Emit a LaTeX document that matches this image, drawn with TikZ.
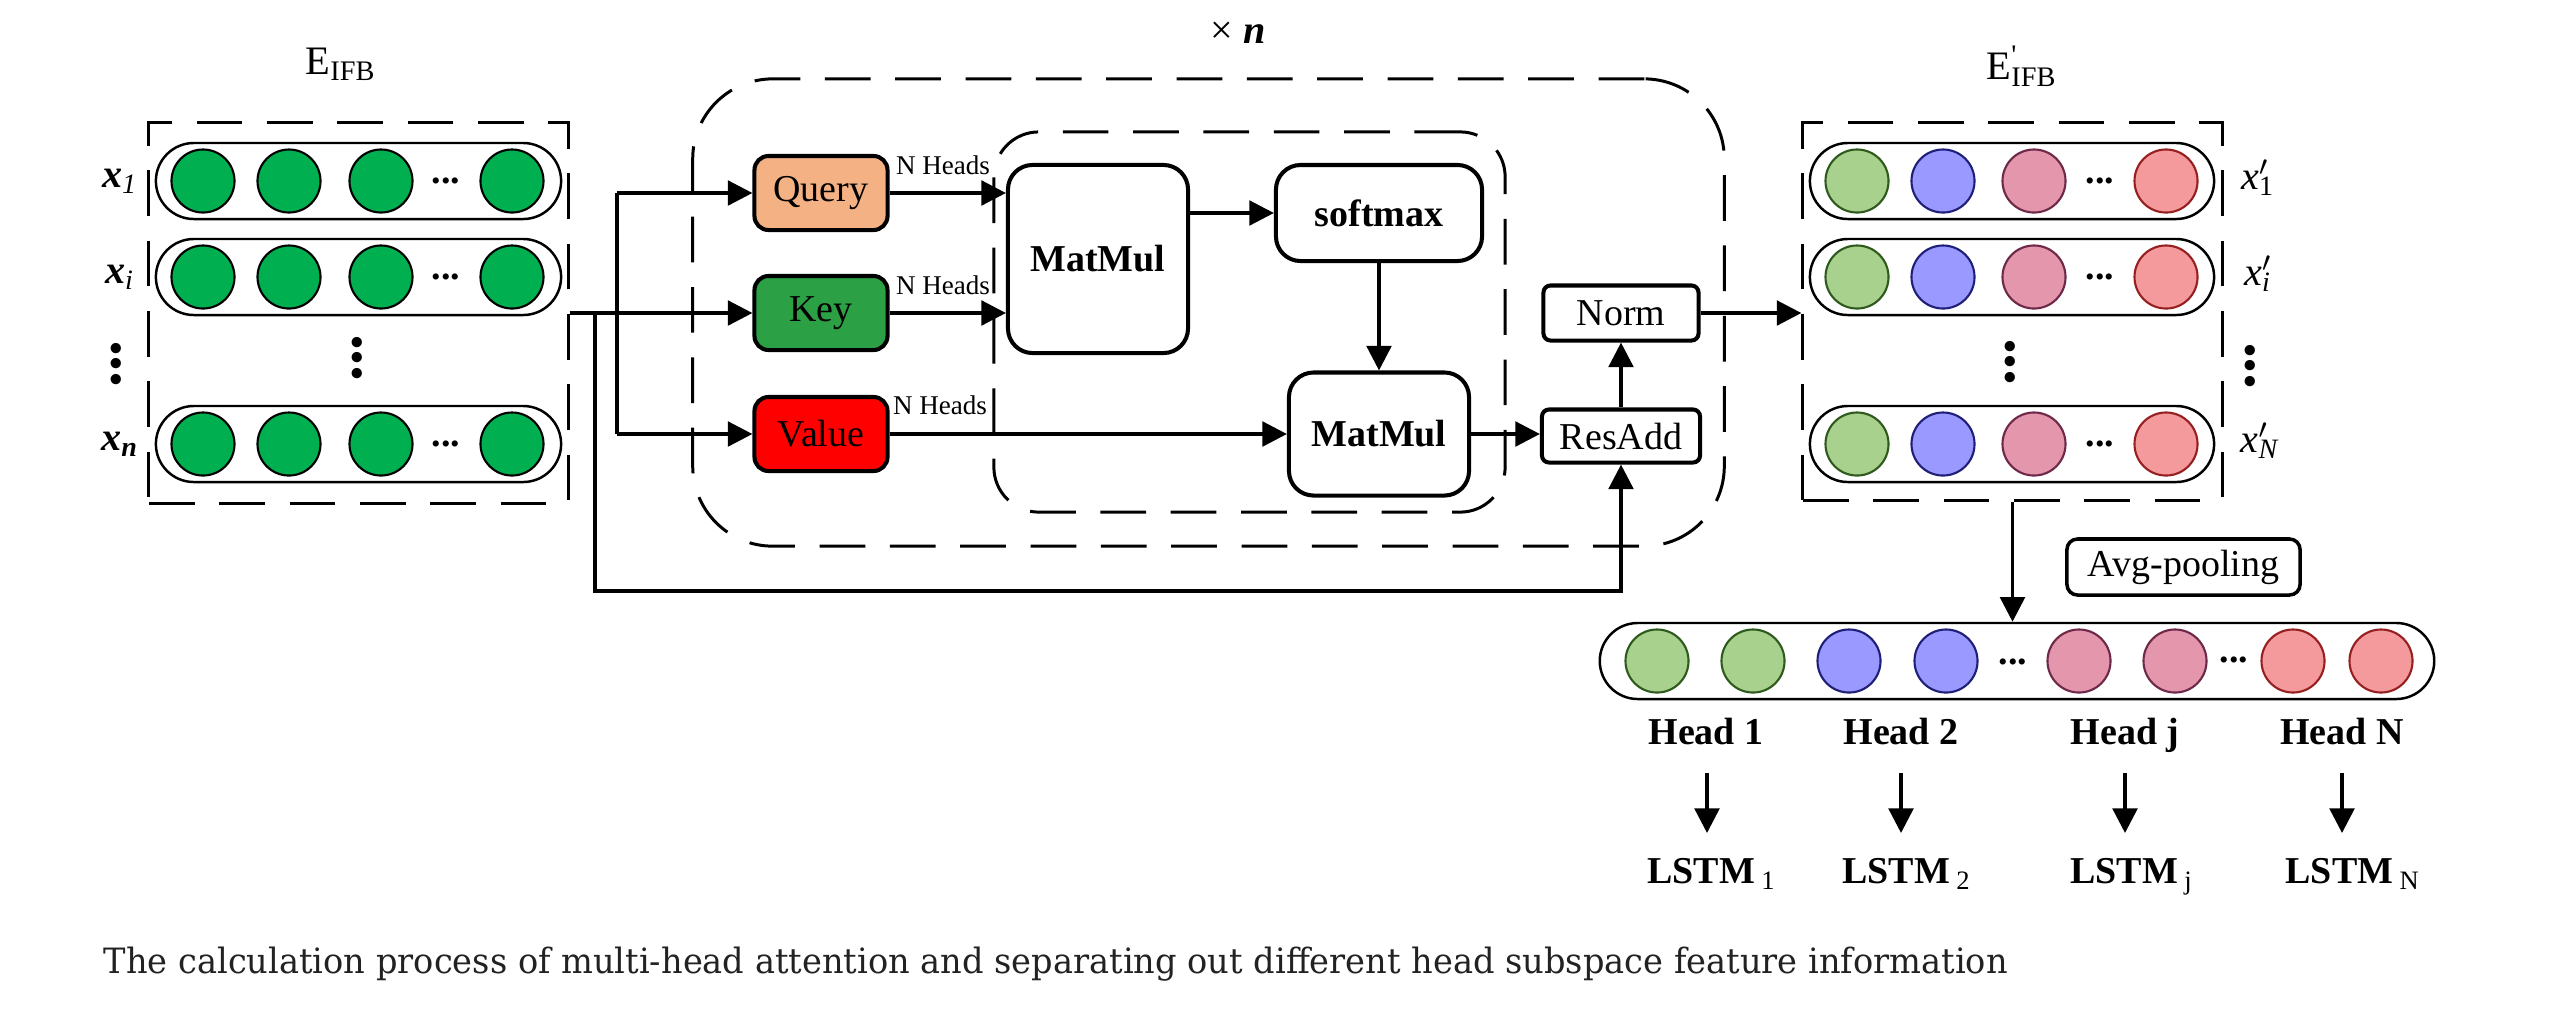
\documentclass[tikz,border=0pt]{standalone}
\usepackage{fontspec}
\setmainfont{Liberation Serif}
\newfontfamily\capfont{DejaVu Serif}
\usetikzlibrary{arrows.meta}
\definecolor{qcol}{HTML}{F4B183}
\definecolor{kcol}{HTML}{2BA045}
\definecolor{vcol}{HTML}{FF0000}
\definecolor{ingreen}{HTML}{00B050}
\definecolor{lgreen}{HTML}{A9D18E}
\definecolor{lgreenB}{HTML}{2E5A1E}
\definecolor{lblue}{HTML}{9999FF}
\definecolor{lblueB}{HTML}{1F1F78}
\definecolor{lpink}{HTML}{E396AC}
\definecolor{lpinkB}{HTML}{6E2848}
\definecolor{lred}{HTML}{F59A9C}
\definecolor{lredB}{HTML}{962020}
\definecolor{capgray}{HTML}{222222}
\begin{document}
\begin{tikzpicture}[x=0.01cm,y=-0.01cm,
  ln/.style={line width=1pt},
  arr/.style={line width=1pt,-{Triangle[length=7pt,width=7pt]}},
  dsh/.style={draw,line width=0.85pt,dash pattern=on 13pt off 7pt,inner sep=0pt},
  blk/.style={draw,line width=1.15pt,inner sep=0pt,font=\fontsize{10.8}{12}\selectfont},
  bblk/.style={blk,font=\bfseries\fontsize{10.8}{12}\selectfont},
  pill/.style={draw,line width=0.7pt,rounded corners=0.38cm,minimum height=0.76cm,inner sep=0pt},
  dotc/.style={circle,draw,line width=0.6pt,minimum size=0.63cm,inner sep=0pt},
  hdl/.style={font=\fontsize{7.7}{9}\selectfont,inner sep=0pt},
  hdots/.style={font=\bfseries\fontsize{10.8}{12}\selectfont,inner sep=0pt},
  vdots/.style={font=\bfseries\fontsize{18}{20}\selectfont,inner sep=0pt,rotate=90},
  lab/.style={font=\fontsize{11.4}{12}\selectfont,inner sep=0pt},
  bt/.style={font=\bfseries\fontsize{10.8}{12}\selectfont,inner sep=0pt,text height=1.6ex,text depth=0.45ex},
]
\useasboundingbox (0,0) rectangle (2554,1014);

% ---------- titles
\node[font=\fontsize{11.5}{12}\selectfont,inner sep=0pt] (ein) at (341,64) {E\textsubscript{IFB}};
\node[font=\fontsize{11.5}{12}\selectfont,inner sep=0pt] (eout) at (2022,66) {E\makebox[0pt][l]{\textsuperscript{\textquotesingle}}\textsubscript{IFB}};
\node[font=\fontsize{11.4}{12}\selectfont,inner sep=0pt] (times) at (1238,33) {× \textbf{\textit{n}}};

% ---------- dashed frames
\node[dsh,minimum width=4.19cm,minimum height=3.80cm] (inbox) at (358.5,313) {};
\node[dsh,minimum width=4.19cm,minimum height=3.77cm] (outbox) at (2012.5,311.5) {};
\node[dsh,rounded corners=0.8cm,minimum width=10.31cm,minimum height=4.67cm] (outer) at (1208.5,312.5) {};
\node[dsh,rounded corners=0.45cm,minimum width=5.11cm,minimum height=3.80cm] (inner) at (1249.5,322) {};

% ---------- input rows
\foreach \r/\y in {a/181,b/277,c/444}{
  \node[pill,minimum width=4.05cm] (inrow\r) at (358.5,\y) {};
  \foreach \k/\x in {1/203,2/289,3/381,4/512}
    \node[dotc,fill=ingreen] (in\r\k) at (\x,\y) {};
  \node[hdots] (indots\r) at (446,\y) {...};
}
\node[lab,font=\bfseries\itshape\fontsize{11.4}{12}\selectfont] (lxa) at (120,181) {x\textsubscript{\mdseries 1}};
\node[lab,font=\bfseries\itshape\fontsize{11.4}{12}\selectfont] (lxb) at (120,277) {x\textsubscript{\mdseries i}};
\node[lab,font=\bfseries\itshape\fontsize{11.4}{12}\selectfont] (lxc) at (120,444) {x\textsubscript{n}};
\node[vdots] (lvd) at (116,364) {...};
\node[vdots] (mvd) at (357,358) {...};

% ---------- output rows
\foreach \r/\y in {a/181,b/277,c/444}{
  \node[pill,minimum width=4.04cm] (outrow\r) at (2012,\y) {};
  \node[dotc,fill=lgreen,draw=lgreenB] (out\r1) at (1857,\y) {};
  \node[dotc,fill=lblue,draw=lblueB] (out\r2) at (1943,\y) {};
  \node[dotc,fill=lpink,draw=lpinkB] (out\r3) at (2034,\y) {};
  \node[dotc,fill=lred,draw=lredB] (out\r4) at (2166,\y) {};
  \node[hdots] (outdots\r) at (2100,\y) {...};
}
\node[lab,font=\itshape\fontsize{11.4}{12}\selectfont] (rxa) at (2258,178) {x\makebox[0pt][l]{\textsuperscript{$\prime$}}\textsubscript{\upshape 1}};
\node[lab,font=\itshape\fontsize{11.4}{12}\selectfont] (rxb) at (2258,274) {x\makebox[0pt][l]{\textsuperscript{$\prime$}}\textsubscript{i}};
\node[lab,font=\itshape\fontsize{11.4}{12}\selectfont] (rxc) at (2260,441) {x\makebox[0pt][l]{\textsuperscript{$\prime$}}\textsubscript{N}};
\node[vdots] (rvd) at (2250,366) {...};
\node[vdots] (ovd) at (2010,362) {...};

% ---------- attention block
\node[blk,fill=qcol,rounded corners=4pt,minimum width=1.33cm,minimum height=0.74cm] (query) at (821,193) {Query};
\node[blk,fill=kcol,rounded corners=4pt,minimum width=1.33cm,minimum height=0.74cm] (key) at (821,313) {Key};
\node[blk,fill=vcol,rounded corners=4pt,minimum width=1.33cm,minimum height=0.74cm] (value) at (821,434) {Value};
\node[hdl] (nhq) at (943,165) {N Heads};
\node[hdl] (nhk) at (943,285) {N Heads};
\node[hdl] (nhv) at (940,405) {N Heads};

\node[bblk,rounded corners=7pt,minimum width=1.80cm,minimum height=1.88cm] (mm1) at (1098,259) {MatMul};
\node[bblk,rounded corners=7pt,minimum width=2.06cm,minimum height=0.96cm] (soft) at (1379,213) {softmax};
\node[bblk,rounded corners=7pt,minimum width=1.80cm,minimum height=1.23cm] (mm2) at (1379,434) {MatMul};
\node[blk,rounded corners=2pt,minimum width=1.55cm,minimum height=0.55cm] (norm) at (1621,313) {Norm};
\node[blk,rounded corners=2pt,minimum width=1.58cm,minimum height=0.53cm] (resadd) at (1621,436) {ResAdd};

% ---------- connectors
\coordinate (j1) at (617,313);
\coordinate (j2) at (595,313);
\coordinate (rb) at (595,591);
\draw[arr] (inbox.east) -- (key.west);
\draw[ln] (j1 |- query.west) -- (j1 |- value.west);
\draw[arr] (j1 |- query.west) -- (query.west);
\draw[arr] (j1 |- value.west) -- (value.west);
\draw[arr] (j2) -- (rb) -| (resadd.south);
\draw[arr] (query.east) -- (query.east -| mm1.west);
\draw[arr] (key.east) -- (key.east -| mm1.west);
\draw[arr] (value.east) -- (value.east -| mm2.west);
\draw[arr] (mm1.east |- soft.west) -- (soft.west);
\draw[arr] (soft.south) -- (mm2.north);
\draw[arr] (mm2.east) -- (mm2.east -| resadd.west);
\draw[arr] (resadd.north) -- (norm.south);
\draw[arr] (norm.east) -- (norm.east -| outbox.west);

% ---------- pooling
\node[pill,minimum width=8.34cm] (pool) at (2017,661) {};
\draw[arr] (outbox.south) -- (outbox.south |- pool.north);
\node[blk,line width=1pt,rounded corners=3pt,minimum width=2.33cm,minimum height=0.56cm] (avg) at (2183.5,567) {Avg-pooling};
\foreach \k/\x/\c in {1/1657/lgreen,2/1753/lgreen,3/1849/lblue,4/1946/lblue,5/2079/lpink,6/2175/lpink,7/2293/lred,8/2381/lred}
  \node[dotc,fill=\c,draw=\c B] (p\k) at (\x,661) {};
\node[hdots] (pdots1) at (2013,662) {...};
\node[hdots] (pdots2) at (2234,660) {...};

% ---------- heads
\node[bt] (h1) at (1706,735) {Head 1};
\node[bt] (h2) at (1901,735) {Head 2};
\node[bt] (h3) at (2125,735) {Head j};
\node[bt] (h4) at (2342,735) {Head N};
\node[bt] (l1) at (1712,874) {LSTM\,\textsubscript{\mdseries 1}};
\node[bt] (l2) at (1907,874) {LSTM\,\textsubscript{\mdseries 2}};
\node[bt] (l3) at (2132,874) {LSTM\,\textsubscript{\mdseries j}};
\node[bt] (l4) at (2353,874) {LSTM\,\textsubscript{\mdseries N}};
\coordinate (a1) at (1707,773); \coordinate (b1) at (1707,833);
\coordinate (a2) at (1901,773); \coordinate (b2) at (1901,833);
\coordinate (a3) at (2125,773); \coordinate (b3) at (2125,833);
\coordinate (a4) at (2342,773); \coordinate (b4) at (2342,833);
\foreach \i in {1,2,3,4} \draw[arr] (a\i) -- (b\i);

% ---------- caption
\node[anchor=base west,inner sep=0pt,text=capgray] (cap) at (103,973) {\resizebox{19.03cm}{0.265cm}{\capfont The calculation process of multi-head attention and separating out different head subspace feature information}};
\end{tikzpicture}
\end{document}
